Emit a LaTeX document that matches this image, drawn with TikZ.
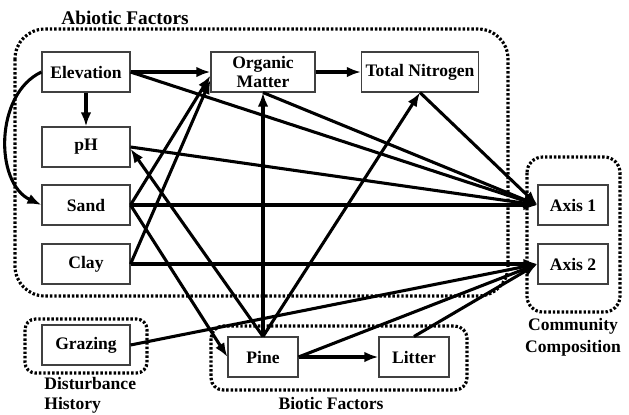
\documentclass[tikz,border=0pt]{standalone}
\usepackage{fontspec}
\setmainfont{Liberation Serif}
\usetikzlibrary{arrows.meta}

\begin{document}
\begin{tikzpicture}[>={Latex[length=8pt,width=6pt]}, x=0.02cm, y=-0.02cm,
	factor/.style={draw=black!75, line width=0.6pt, minimum height=0.8cm,
		minimum width=1.76cm, inner sep=1pt, font=\bfseries, align=center,
		execute at begin node=\setlength{\baselineskip}{11pt}},
	link/.style={->, line width=1.75pt},
	group/.style={line width=1.8pt, dash pattern=on 1.4pt off 1.1pt},
	grouplabel/.style={font=\bfseries, align=center, inner sep=0pt,
		execute at begin node=\setlength{\baselineskip}{12.5pt}}]

\useasboundingbox (0,0) rectangle (629,414);

\draw[group, rounded corners=17pt] (15,29) rectangle (508,296);
\draw[group, rounded corners=9pt] (527,157) rectangle (620,312);
\draw[group, rounded corners=6pt] (25,319) rectangle (147,373);
\draw[group, rounded corners=7pt] (211,326) rectangle (467,390);

\node[grouplabel, font=\fontsize{11}{13}\bfseries\selectfont] (abiotic) at (125,18) {Abiotic Factors};
\node[grouplabel] (community) at (573,337) {Community\\Composition};
\node[grouplabel, align=left, anchor=west,
	execute at begin node=\setlength{\baselineskip}{11.3pt}] (disturbance) at (44,395) {Disturbance\\History};
\node[grouplabel] (biotic) at (331,403) {Biotic Factors};

\node[factor] (elev) at (86,72) {Elevation};
\node[factor, minimum width=2.08cm] (om) at (263,72) {Organic\\Matter};
\node[factor, minimum width=2.34cm] (tn) at (420,72) {Total Nitrogen};
\node[factor] (ph) at (86,147) {pH};
\node[factor] (sand) at (86,205) {Sand};
\node[factor] (clay) at (86,264) {Clay};
\node[factor, minimum width=1.4cm] (axisa) at (573,205) {Axis 1};
\node[factor, minimum width=1.4cm] (axisb) at (573,264) {Axis 2};
\node[factor] (graz) at (86,345) {Grazing};
\node[factor, minimum width=1.4cm] (pine) at (263,357) {Pine};
\node[factor, minimum width=1.4cm] (litter) at (414,357) {Litter};

\draw[link] (elev) -- (om);
\draw[link] (om) -- (tn);
\draw[link] (elev) -- (ph);
\draw[link] (elev.west) to[out=205,in=155] (sand.west);

\draw[link] (elev.east) -- (axisa.west);
\draw[link] (om.south) -- (axisa.west);
\draw[link] (tn.south) -- (axisa.west);
\draw[link] (ph.east) -- (axisa.west);
\draw[link] (sand.east) -- (axisa.west);

\draw[link] (sand.east) -- ([yshift=-2pt]om.west);
\draw[link] (clay.east) -- ([yshift=-4.5pt]om.west);
\draw[link] (sand.east) -- (pine.west);

\draw[link] (clay.east) -- (axisb.west);
\draw[link] (graz.east) -- (axisb.west);
\draw[link] (pine.east) -- (axisb.west);
\draw[link] (litter.north) -- (axisb.west);

\draw[link] (pine.north) -- ([yshift=-1pt]ph.east);
\draw[link] (pine.north) -- (om.south);
\draw[link] (pine.north) -- (tn.south);
\draw[link] (pine) -- (litter);

\end{tikzpicture}
\end{document}
